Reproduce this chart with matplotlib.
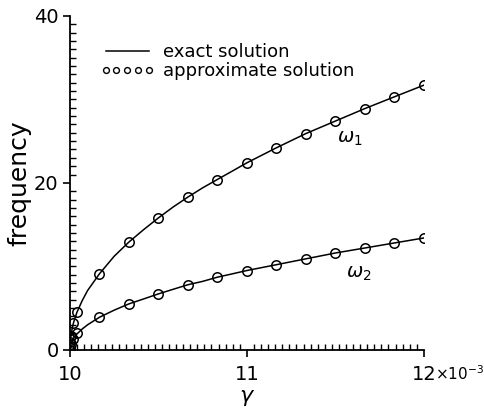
import matplotlib
matplotlib.use("Agg")
import matplotlib.pyplot as plt
from matplotlib.lines import Line2D
from matplotlib.ticker import MultipleLocator

# gamma in units of 1e-3
gamma_exact = [10.0, 10.001, 10.004, 10.01, 10.02, 10.04, 10.07, 10.1, 10.167, 10.25,
               10.333, 10.417, 10.5, 10.583, 10.667, 10.75, 10.833, 10.917, 11.0,
               11.167, 11.333, 11.5, 11.667, 11.833, 12.0]
omega1_exact = [0.0, 0.7, 1.4, 2.2, 3.2, 4.5, 5.9, 7.1, 9.1, 11.2,
                12.9, 14.4, 15.8, 17.1, 18.3, 19.4, 20.4, 21.4, 22.4,
                24.2, 25.9, 27.4, 28.9, 30.3, 31.7]
omega2_exact = [0.0, 0.3, 0.6, 0.95, 1.35, 1.9, 2.5, 3.0, 3.9, 4.75,
                5.5, 6.1, 6.7, 7.25, 7.8, 8.2, 8.7, 9.1, 9.5,
                10.2, 10.9, 11.6, 12.2, 12.8, 13.4]

gamma_approx = [10.0, 10.002, 10.006, 10.019, 10.042, 10.167, 10.333, 10.5, 10.667,
                10.833, 11.0, 11.167, 11.333, 11.5, 11.667, 11.833, 12.0]
omega1_approx = [0.0, 1.0, 1.7, 3.2, 4.5, 9.1, 12.9, 15.8, 18.3,
                 20.4, 22.4, 24.2, 25.9, 27.4, 28.9, 30.3, 31.7]
omega2_approx = [0.0, 0.4, 0.7, 1.3, 2.0, 3.9, 5.5, 6.7, 7.8,
                 8.7, 9.5, 10.2, 10.9, 11.6, 12.2, 12.8, 13.4]

fig = plt.figure(figsize=(4.85, 4.17), dpi=100)
ax = fig.add_axes([0.144, 0.161, 0.730, 0.801])

lw = 1.1
for om_e, om_a in [(omega1_exact, omega1_approx), (omega2_exact, omega2_approx)]:
    ax.plot(gamma_exact, om_e, color="black", lw=lw)
    ax.plot(gamma_approx, om_a, ls="none", marker="o", ms=6.8, mfc="none",
            mec="black", mew=1.1)

ax.set_xlim(10, 12)
ax.set_ylim(0, 40)
ax.spines["top"].set_visible(False)
ax.spines["right"].set_visible(False)
ax.spines["left"].set_linewidth(1.3)
ax.spines["bottom"].set_linewidth(1.3)

ax.xaxis.set_major_locator(MultipleLocator(1))
ax.xaxis.set_minor_locator(MultipleLocator(0.04))
ax.yaxis.set_major_locator(MultipleLocator(20))
ax.yaxis.set_minor_locator(MultipleLocator(1))
ax.tick_params(which="major", direction="out", length=5, width=1.2, labelsize=14, pad=3)
ax.tick_params(axis="x", which="major", pad=6)
ax.tick_params(which="minor", direction="in", length=4, width=1.0)

ax.set_ylabel("frequency", fontsize=18, labelpad=2)
ax.set_xlabel(r"$\gamma$", fontsize=16, labelpad=3)
ax.text(12.065, -0.072, r"$\times\mathregular{10^{-3}}$", transform=ax.get_xaxis_transform(),
        fontsize=11, ha="left", va="center")

ax.text(11.51, 25.3, r"$\omega_1$", fontsize=14, va="center")
ax.text(11.56, 9.2, r"$\omega_2$", fontsize=14, va="center")

handles = [Line2D([], [], color="black", lw=lw),
           Line2D([], [], ls="none", marker="o", ms=4.2, mfc="none", mec="black", mew=1.0)]
ax.legend(handles, ["exact solution", "approximate solution"], loc="upper left",
          bbox_to_anchor=(0.06, 0.945), frameon=False, numpoints=5, handlelength=3.0,
          handletextpad=0.5, labelspacing=0.05, borderpad=0, fontsize=13)

fig.savefig("out.png", dpi=100)
